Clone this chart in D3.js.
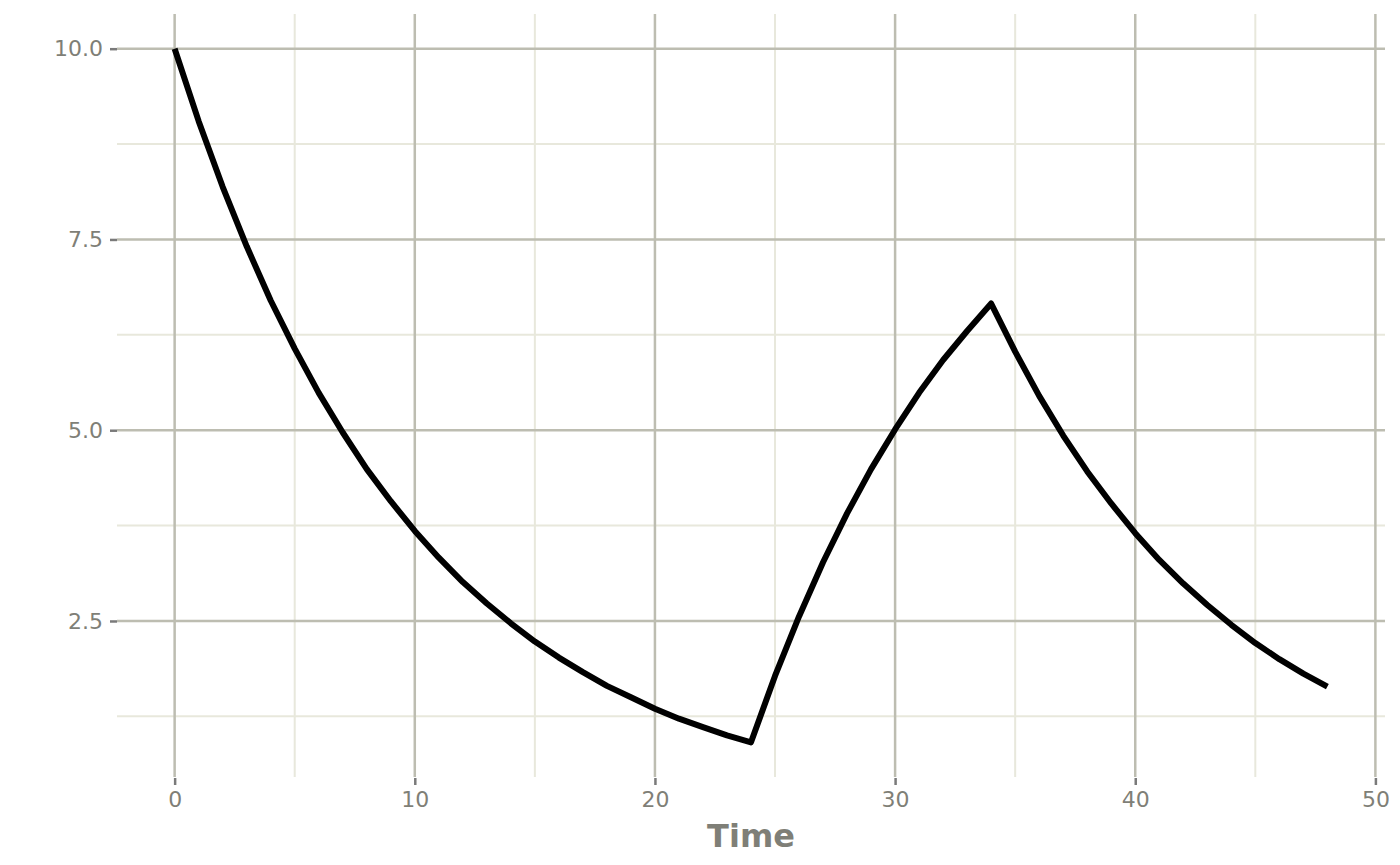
<!DOCTYPE html>
<html>
<head>
<meta charset="utf-8">
<script src="https://cdn.jsdelivr.net/npm/d3@7"></script>
<style>
  html, body { margin: 0; padding: 0; background: #ffffff; }
  svg { display: block; }
  text { font-family: "DejaVu Sans", sans-serif; }
</style>
</head>
<body>
<svg id="chart" width="1400" height="865"></svg>
<script>
// ---- data ----
const time = [0,1,2,3,4,5,6,7,8,9,10,11,12,13,14,15,16,17,18,19,20,21,22,23,24,
              25,26,27,28,29,30,31,32,33,34,35,36,37,38,39,40,41,42,43,44,45,46,47,48];
const conc = [10.00,9.05,8.19,7.41,6.70,6.07,5.49,4.97,4.49,4.07,3.68,3.33,3.01,2.73,2.47,2.23,2.02,1.83,1.65,1.50,1.35,1.22,1.11,1.00,0.91,
              1.78,2.56,3.27,3.91,4.49,5.01,5.49,5.92,6.30,6.66,
              6.03,5.45,4.93,4.46,4.04,3.65,3.30,2.99,2.71,2.45,2.21,2.00,1.81,1.64];
const xTicks = [0,10,20,30,40,50];
const xMinor = [5,15,25,35,45];
const yTicks = [2.5,5.0,7.5,10.0];
const yMinor = [1.25,3.75,6.25,8.75];
const xTitle = "Time";

// ---- layout ----
const panel = {left: 117, right: 1385, top: 14, bottom: 777};
const svg = d3.select("#chart");

const xMin = d3.min(time), xMax = d3.max(time);
const yMin = d3.min(conc), yMax = d3.max(conc);
const xPad = (xMax - xMin) * 0.05, yPad = (yMax - yMin) * 0.05;

const x = d3.scaleLinear().domain([xMin - xPad, xMax + xPad]).range([panel.left, panel.right]);
const y = d3.scaleLinear().domain([yMin - yPad, yMax + yPad]).range([panel.bottom, panel.top]);

const majorCol = "#bdbdb1", minorCol = "#e8e8dc";
const g = svg.append("g");

// minor grid
g.selectAll(".vminor").data(xMinor).join("line")
  .attr("x1", d => x(d)).attr("x2", d => x(d))
  .attr("y1", panel.top).attr("y2", panel.bottom)
  .attr("stroke", minorCol).attr("stroke-width", 2);
g.selectAll(".hminor").data(yMinor).join("line")
  .attr("y1", d => y(d)).attr("y2", d => y(d))
  .attr("x1", panel.left).attr("x2", panel.right)
  .attr("stroke", minorCol).attr("stroke-width", 2);
// major grid
g.selectAll(".vmajor").data(xTicks).join("line")
  .attr("x1", d => x(d)).attr("x2", d => x(d))
  .attr("y1", panel.top).attr("y2", panel.bottom)
  .attr("stroke", majorCol).attr("stroke-width", 2.5);
g.selectAll(".hmajor").data(yTicks).join("line")
  .attr("y1", d => y(d)).attr("y2", d => y(d))
  .attr("x1", panel.left).attr("x2", panel.right)
  .attr("stroke", majorCol).attr("stroke-width", 2.5);

// axes
const tickCol = "#7a7a7a", labelCol = "#7f7f77";
const xAxis = d3.axisBottom(x).tickValues(xTicks).tickSize(7).tickPadding(6).tickFormat(d3.format("d"));
const yAxis = d3.axisLeft(y).tickValues(yTicks).tickSize(7).tickPadding(7).tickFormat(d3.format(".1f"));

const gx = svg.append("g").attr("transform", `translate(0,${panel.bottom + 1})`).call(xAxis);
const gy = svg.append("g").attr("transform", `translate(${panel.left},0)`).call(yAxis);
[gx, gy].forEach(a => {
  a.select(".domain").remove();
  a.selectAll(".tick line").attr("stroke", tickCol).attr("stroke-width", 2.5);
  a.selectAll(".tick text").attr("fill", labelCol).style("font-size", "22px")
   .style("font-family", "'DejaVu Sans', sans-serif");
});

// line
const line = d3.line().x((d, i) => x(time[i])).y(d => y(d));
svg.append("path").datum(conc)
  .attr("d", line)
  .attr("fill", "none")
  .attr("stroke", "#000000")
  .attr("stroke-width", 6)
  .attr("stroke-linejoin", "round")
  .attr("stroke-linecap", "butt");

// axis title
svg.append("text")
  .attr("x", (panel.left + panel.right) / 2)
  .attr("y", 847)
  .attr("text-anchor", "middle")
  .attr("fill", labelCol)
  .style("font-size", "32px")
  .style("font-weight", "bold")
  .text(xTitle);
</script>
</body>
</html>
